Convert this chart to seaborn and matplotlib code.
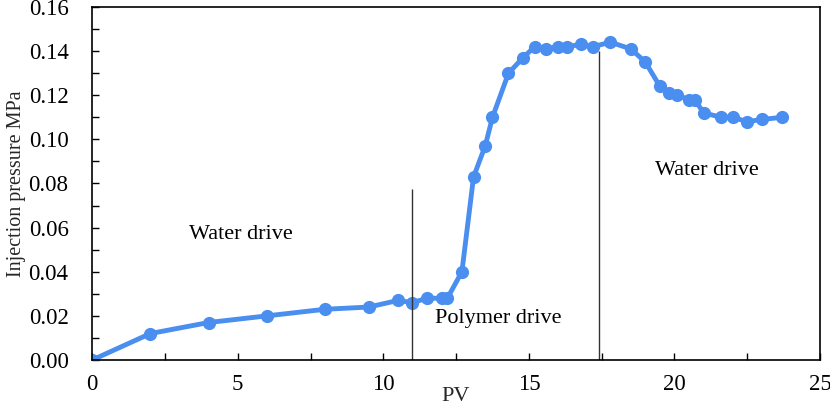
import matplotlib
matplotlib.use("Agg")
import matplotlib.pyplot as plt
import seaborn as sns
import pandas as pd
from matplotlib.ticker import MultipleLocator

pv = [0, 2.0, 4.0, 6.0, 8.0, 9.5, 10.5, 11.0, 11.5, 12.0, 12.2, 12.7, 13.1, 13.5, 13.75,
      14.3, 14.8, 15.2, 15.6, 16.0, 16.3, 16.8, 17.2, 17.8, 18.5, 19.0, 19.5, 19.8, 20.1,
      20.5, 20.7, 21.0, 21.6, 22.0, 22.5, 23.0, 23.7]
pressure = [0.000, 0.012, 0.017, 0.020, 0.023, 0.024, 0.027, 0.026, 0.028, 0.028, 0.028,
            0.040, 0.083, 0.097, 0.110, 0.130, 0.137, 0.142, 0.141, 0.142, 0.142, 0.143,
            0.142, 0.144, 0.141, 0.135, 0.124, 0.121, 0.120, 0.118, 0.118, 0.112, 0.110,
            0.110, 0.108, 0.109, 0.110]
divider_x = [11.0, 17.4]
divider_top = [0.0775, 0.140]
labels = ["Water drive", "Polymer drive", "Water drive"]
label_x = [5.1, 13.95, 21.1]
label_y = [0.057, 0.019, 0.086]

sns.set_theme(style="white")
plt.rcParams['font.family'] = ['Liberation Serif', 'DejaVu Serif']

fig = plt.figure(figsize=(8.3, 4.08), dpi=100)
ax = fig.add_axes([0.111, 0.1176, 0.877, 0.8654])

df = pd.DataFrame({"PV": pv, "P": pressure})
sns.lineplot(data=df, x="PV", y="P", ax=ax, color="#4A8EF0", linewidth=3.5,
             marker="o", markersize=9.5, markeredgewidth=0, sort=False)

for xv, yt in zip(divider_x, divider_top):
    ax.vlines(xv, 0, yt, color="#333333", linewidth=1.0)

for t, xv, yv in zip(labels, label_x, label_y):
    ax.text(xv, yv, t, ha="center", va="center", fontsize=16, color="black")

ax.set_xlim(0, 25)
ax.set_ylim(0, 0.16)
ax.xaxis.set_major_locator(MultipleLocator(5))
ax.xaxis.set_minor_locator(MultipleLocator(2.5))
ax.yaxis.set_major_locator(MultipleLocator(0.02))
ax.yaxis.set_minor_locator(MultipleLocator(0.01))
ax.yaxis.set_major_formatter(matplotlib.ticker.FormatStrFormatter('%.2f'))
ax.tick_params(axis='both', which='both', direction='in', length=5, width=1,
               labelsize=16.5, colors='black', bottom=True, left=True, top=False, right=False)
ax.tick_params(axis='x', which='major', pad=10)
ax.tick_params(axis='y', which='major', pad=17)
for s in ax.spines.values():
    s.set_color('black')
    s.set_linewidth(1.2)
ax.set_xlabel("PV", fontsize=16, labelpad=-6)
ax.set_ylabel("Injection pressure MPa", fontsize=14.5, labelpad=2)

fig.savefig("out.png", dpi=100)
